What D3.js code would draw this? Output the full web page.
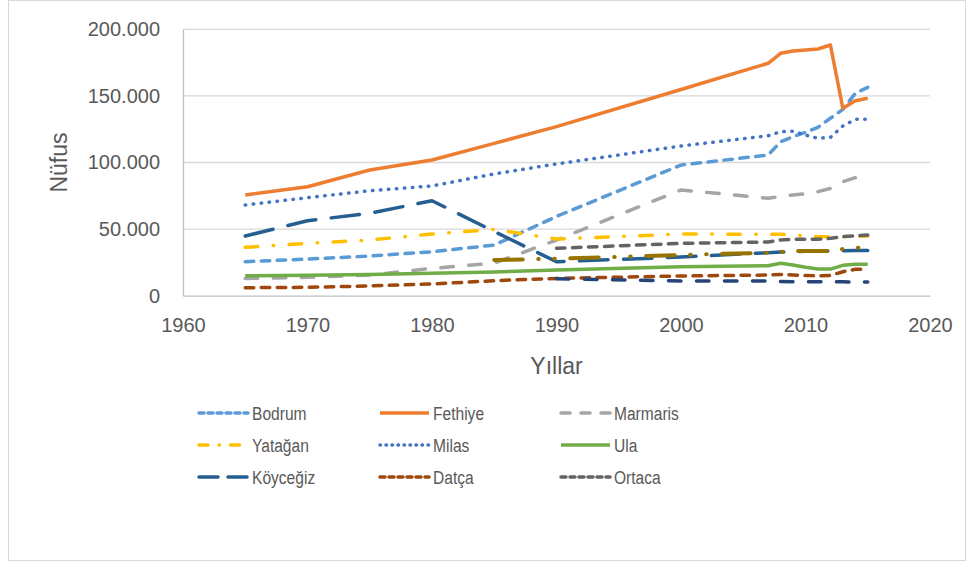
<!DOCTYPE html>
<html>
<head>
<meta charset="utf-8">
<script src="https://cdn.jsdelivr.net/npm/d3@7"></script>
<style>
  body { margin: 0; background: #fff; }
  svg { display: block; }
</style>
</head>
<body>
<svg id="chart" width="972" height="565"></svg>
<script>
// census years
var years = [1965, 1970, 1975, 1980, 1985, 1990, 2000, 2007, 2008, 2009, 2010, 2011, 2012, 2013, 2014, 2015];

// population per district
var bodrum   = [25500, 27500, 29800, 33000, 38000, 59500, 98100, 105600, 115600, 119400, 122600, 126400, 133200, 139900, 151900, 156400];
var fethiye  = [75600, 81800, 94400, 101900, 114400, 126900, 154800, 174500, 182000, 183700, 184500, 185200, 188200, 140700, 146400, 148200];
var marmaris = [13000, 13800, 15500, 20500, 24500, 41800, 79400, 73200, 74500, 75600, 76500, 78100, 80500, 85600, 88600, null];
var yatagan  = [36300, 39300, 41800, 46300, 49800, 42600, 46300, 46100, 46100, 45800, 44800, 44300, 44300, 44300, 44600, 44800];
var milas    = [68100, 73600, 78800, 82400, 91400, 98900, 112400, 120100, 123100, 123500, 120600, 118200, 118900, 127400, 132400, 132400];
var ula      = [15000, 15300, 16000, 16800, 17800, 19300, 21800, 22500, 24300, 23000, 21300, 20000, 20000, 22800, 23600, 23600];
var koycegiz = [44800, 56300, 61900, 71300, 48200, 25500, 29000, 32300, 32800, 32900, 33300, 33600, 33600, 33800, 34000, 34000];
var datca    = [6000, 6300, 7300, 8800, 11300, 13000, 14800, 15500, 16000, 15500, 15200, 15000, 15200, 18000, 19800, 20000];
var ortaca   = [null, null, null, null, null, 35600, 39300, 40300, 41800, 42300, 42300, 42300, 43100, 44300, 45000, 45600];
var dalaman  = [null, null, null, null, 26800, 27800, 30600, 32300, 33000, 33500, 33600, 33600, 33600, 35000, 36000, 36000];
var kavak    = [null, null, null, null, null, 12800, 11100, 11000, 10700, 10500, 10500, 10400, 10400, 10400, 10300, 10300];

var xTicks = [1960, 1970, 1980, 1990, 2000, 2010, 2020];
var yTicks = [0, 50000, 100000, 150000, 200000];

var series = [
  { name: "Bodrum",      values: bodrum,   color: "#5B9BD5", dash: "8.5,7.5",  ldash: "5,4" },
  { name: "Fethiye",     values: fethiye,  color: "#ED7D31", dash: null,       ldash: null },
  { name: "Marmaris",    values: marmaris, color: "#A5A5A5", dash: "12.5,15.5", ldash: "9,11" },
  { name: "Yatağan",     values: yatagan,  color: "#FFC000", dash: "12.5,15.5,0.5,15.5", ldash: "9,11,0.5,11" },
  { name: "Milas",       values: milas,    color: "#4472C4", dash: "0.5,7.5",  ldash: "0.5,5.5" },
  { name: "Ula",         values: ula,      color: "#70AD47", dash: null,       ldash: null },
  { name: "Köyceğiz",    values: koycegiz, color: "#255E91", dash: "28.5,15.5", ldash: "19,10" },
  { name: "Datça",       values: datca,    color: "#9E480E", dash: "8.5,7.5",  ldash: "5,4" },
  { name: "Ortaca",      values: ortaca,   color: "#636363", dash: "8.5,7.5",  ldash: "5,4" },
  { name: "Dalaman",     values: dalaman,  color: "#997300", dash: "28.5,15.5,0.5,15.5,0.5,15.5", ldash: null },
  { name: "Kavaklıdere", values: kavak,    color: "#264478", dash: "12.5,15.5", ldash: null }
];

var svg = d3.select("#chart");

// outer frame
svg.append("rect")
  .attr("x", 8.5).attr("y", 0.5)
  .attr("width", 957).attr("height", 560)
  .attr("fill", "#fff").attr("stroke", "#d9d9d9");

var pLeft = 183, pRight = 930, pTop = 29.3, pBottom = 295.7;

var x = d3.scaleLinear().domain([1960, 2020]).range([pLeft, pRight]);
var y = d3.scaleLinear().domain([0, 200000]).range([pBottom, pTop]);

var loc = d3.formatLocale({ decimal: ",", thousands: ".", grouping: [3], currency: ["", ""] });
var fmt = loc.format(",d");

// gridlines
svg.append("g").selectAll("line")
  .data(yTicks.filter(function(d) { return d > 0; }))
  .enter().append("line")
    .attr("x1", pLeft).attr("x2", pRight)
    .attr("y1", function(d) { return y(d); })
    .attr("y2", function(d) { return y(d); })
    .attr("stroke", "#d9d9d9").attr("stroke-width", 1.3);

// y axis
var yAxis = svg.append("g")
  .attr("transform", "translate(" + pLeft + ",0)")
  .call(d3.axisLeft(y).tickValues(yTicks).tickFormat(fmt).tickSize(0).tickPadding(23));
yAxis.select(".domain").attr("stroke", "#bfbfbf").attr("stroke-width", 1.3);
yAxis.selectAll("text")
  .attr("fill", "#595959")
  .style("font-family", "'Liberation Sans', Arial, sans-serif")
  .style("font-size", "20px");

// x axis
var xAxis = svg.append("g")
  .attr("transform", "translate(0," + pBottom + ")")
  .call(d3.axisBottom(x).tickValues(xTicks).tickFormat(d3.format("d")).tickSize(0).tickPadding(22));
xAxis.select(".domain").attr("stroke", "#bfbfbf").attr("stroke-width", 1.3);
xAxis.selectAll("text")
  .attr("fill", "#595959")
  .style("font-family", "'Liberation Sans', Arial, sans-serif")
  .style("font-size", "20px");

// axis titles
svg.append("text")
  .attr("x", (pLeft + pRight) / 2).attr("y", 374)
  .attr("text-anchor", "middle")
  .attr("fill", "#595959")
  .style("font-family", "'Liberation Sans', Arial, sans-serif")
  .style("font-size", "23px")
  .text("Yıllar");

svg.append("text")
  .attr("transform", "translate(67," + ((pTop + pBottom) / 2) + ") rotate(-90)")
  .attr("text-anchor", "middle")
  .attr("fill", "#595959")
  .style("font-family", "'Liberation Sans', Arial, sans-serif")
  .style("font-size", "23px")
  .text("Nüfus");

// lines
var line = d3.line()
  .defined(function(d) { return d[1] != null; })
  .x(function(d) { return x(d[0]); })
  .y(function(d) { return y(d[1]); });

svg.append("g").selectAll("path")
  .data(series)
  .enter().append("path")
    .attr("d", function(s) {
      return line(years.map(function(yr, i) { return [yr, s.values[i]]; }));
    })
    .attr("fill", "none")
    .attr("stroke", function(s) { return s.color; })
    .attr("stroke-width", function(s) { return s.name === "Dalaman" ? 4 : 3.5; })
    .attr("stroke-linecap", function(s) { return s.dash ? "round" : "butt"; })
    .attr("stroke-linejoin", "round")
    .attr("stroke-dasharray", function(s) { return s.dash; });

// legend: 3 x 3, only the first nine series fit
var legendItems = series.slice(0, 9);
var colX = [198, 379, 560];
var rowY = [413, 445, 477];

var leg = svg.append("g").selectAll("g")
  .data(legendItems)
  .enter().append("g")
    .attr("transform", function(d, i) {
      return "translate(" + colX[i % 3] + "," + rowY[Math.floor(i / 3)] + ")";
    });

leg.append("line")
  .attr("x1", 1).attr("x2", 50)
  .attr("stroke", function(d) { return d.color; })
  .attr("stroke-width", 3.5)
  .attr("stroke-linecap", function(d) { return d.ldash ? "round" : "butt"; })
  .attr("stroke-dasharray", function(d) { return d.ldash; });

// legend text is narrower than the tick labels in the reference
leg.append("text")
  .attr("transform", "translate(54,7) scale(0.82,1)")
  .attr("fill", "#595959")
  .style("font-family", "'Liberation Sans', Arial, sans-serif")
  .style("font-size", "19px")
  .text(function(d) { return d.name; });
</script>
</body>
</html>
